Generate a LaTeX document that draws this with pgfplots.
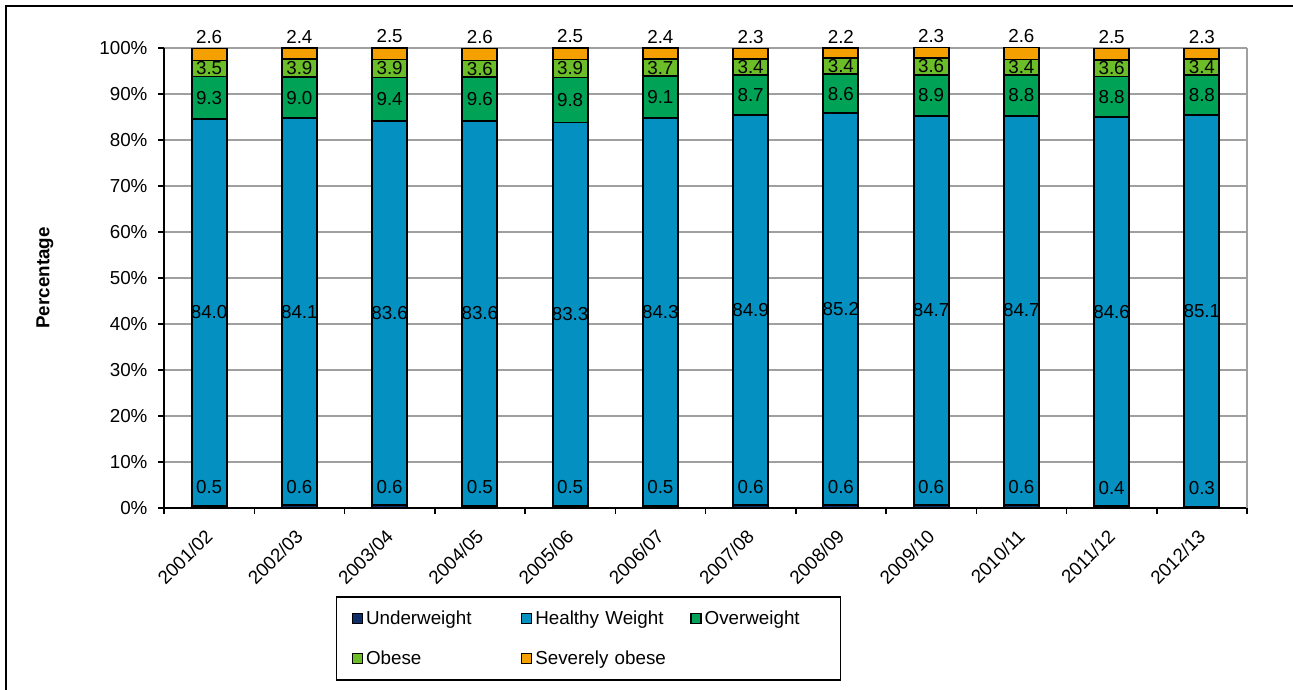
\documentclass[border=0pt]{standalone}
\usepackage{fontspec}
\setmainfont{Liberation Sans}
\usepackage{pgfplots}
\pgfplotsset{compat=1.18}

\definecolor{cUnder}{RGB}{16,46,108}
\definecolor{cHealthy}{RGB}{4,144,192}
\definecolor{cOver}{RGB}{0,163,85}
\definecolor{cObese}{RGB}{107,190,40}
\definecolor{cSevere}{RGB}{243,160,0}
\definecolor{cGrid}{RGB}{160,160,160}

\newcommand\chartfont{\fontsize{18.8}{22}\selectfont}

% labels of stacked segments sit at the middle of each segment;
% axis height 460pt for 100 units -> 4.6pt per percentage point
\pgfplotsset{
  segment/.style={
    draw=black, line width=1.8pt, fill=#1,
    visualization depends on=rawy\as\rawy,
    nodes near coords={\pgfmathprintnumber[fixed,fixed zerofill,precision=1]{\rawy}},
  },
  centered labels/.style={
    every node near coord/.append style={anchor=center, inner sep=0pt,
      font=\chartfont, text=black}
  },
}

\begin{document}
\begin{tikzpicture}[font=\chartfont]
\useasboundingbox (0pt,0pt) rectangle (1293pt,-689pt);
\draw[line width=1.6pt] (6pt,-720pt) -- (6pt,-6pt) -- (1320pt,-6pt);
\begin{axis}[
  at={(164pt,-508pt)}, anchor=south west,
  scale only axis, width=1083pt, height=460pt,
  ybar stacked, bar width=35pt,
  xmin=-0.5, xmax=11.5, ymin=0, ymax=100,
  clip=false,
  axis lines=left,
  axis line style={-, black, line width=1.8pt},
  /pgf/number format/assume math mode=true,
  tick align=outside,
  major tick length=6pt,
  tick style={black, line width=1.5pt},
  xtick={-0.5,0.5,...,11.5}, xticklabels={},
  extra x ticks={0,1,...,11},
  extra x tick labels={2001/02,2002/03,2003/04,2004/05,2005/06,2006/07,2007/08,2008/09,2009/10,2010/11,2011/12,2012/13},
  extra x tick style={major tick length=0pt,
    tick label style={xshift=-5pt, yshift=-20pt, rotate=45, anchor=north east, inner sep=0pt}},
  ytick={0,10,...,100},
  yticklabel={\pgfmathprintnumber{\tick}\%},
  yticklabel style={xshift=-7pt},
  tick label style={font=\chartfont},
  ymajorgrids,
  grid style={cGrid, line width=1.5pt},
  every axis y label/.style={at={(axis description cs:-0.1099,0.5)}, rotate=90, anchor=center},
  ylabel={Percentage},
  ylabel style={font=\chartfont\bfseries},
  legend columns=3,
  legend cell align=left,
  legend image code/.code={\draw[#1, draw=black, line width=1.3pt] (0pt,-5pt) rectangle (10pt,5pt);},
  legend style={at={(rel axis cs:0.1588,-0.1913)}, anchor=north west,
    draw=black, line width=1.5pt, inner xsep=15pt, inner ysep=12pt,
    row sep=21pt,
    /tikz/every even column/.append style={column sep=34pt},
    nodes={text width=118pt, inner xsep=3pt, font=\chartfont}},
]
% underweight: label sits above the thin segment
\addplot[segment=cUnder,
  every node near coord/.append style={anchor=south, inner sep=0pt, yshift=12pt, font=\chartfont, text=black}]
  coordinates {(0,0.5) (1,0.6) (2,0.6) (3,0.5) (4,0.5) (5,0.5) (6,0.6) (7,0.6) (8,0.6) (9,0.6) (10,0.4) (11,0.3)};
\addplot[segment=cHealthy, centered labels]
  coordinates {(0,84.0) (1,84.1) (2,83.6) (3,83.6) (4,83.3) (5,84.3) (6,84.9) (7,85.2) (8,84.7) (9,84.7) (10,84.6) (11,85.1)};
\addplot[segment=cOver, centered labels]
  coordinates {(0,9.3) (1,9.0) (2,9.4) (3,9.6) (4,9.8) (5,9.1) (6,8.7) (7,8.6) (8,8.9) (9,8.8) (10,8.8) (11,8.8)};
\addplot[segment=cObese, centered labels]
  coordinates {(0,3.5) (1,3.9) (2,3.9) (3,3.6) (4,3.9) (5,3.7) (6,3.4) (7,3.4) (8,3.6) (9,3.4) (10,3.6) (11,3.4)};
% severely obese: label just above the top of the bar
\addplot[segment=cSevere,
  every node near coord/.append style={anchor=south, inner sep=0pt, yshift={2.3pt*\rawy+4pt}, font=\chartfont, text=black}]
  coordinates {(0,2.6) (1,2.4) (2,2.5) (3,2.6) (4,2.5) (5,2.4) (6,2.3) (7,2.2) (8,2.3) (9,2.6) (10,2.5) (11,2.3)};
\legend{\mbox{Underweight}, \mbox{Healthy Weight}, \mbox{Overweight}, \mbox{Obese}, \mbox{Severely obese}}
\draw[cGrid, line width=1.5pt] (rel axis cs:1,0) -- (rel axis cs:1,1);
\end{axis}
\end{tikzpicture}
\end{document}
